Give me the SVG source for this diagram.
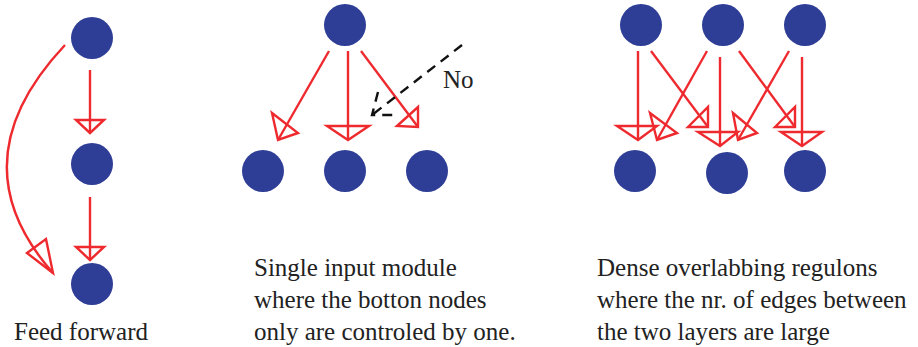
<svg xmlns="http://www.w3.org/2000/svg" width="918" height="347" viewBox="0 0 918 347">
<style>
.node{fill:#2E3D95}
.edge{stroke:#EE2A2F;stroke-width:2.4;fill:none}
.head{stroke:#EE2A2F;stroke-width:2.4;fill:none;stroke-linejoin:miter}
.dash{stroke:#111;stroke-width:2.4;fill:none;stroke-dasharray:10 7}
text{font-family:'Liberation Serif',Tinos,'DejaVu Serif',serif;font-size:25px;fill:#222}
</style>
<rect width="918" height="347" fill="#fff"/>
<g id="ff-n1"><circle class="node" cx="92" cy="38" r="21"/></g>
<g id="ff-n2"><circle class="node" cx="92" cy="164" r="21"/></g>
<g id="ff-n3"><circle class="node" cx="92" cy="284" r="21"/></g>
<g id="sim-top"><circle class="node" cx="345" cy="25" r="21"/></g>
<g id="sim-b1"><circle class="node" cx="263" cy="171" r="21"/></g>
<g id="sim-b2"><circle class="node" cx="345" cy="171" r="21"/></g>
<g id="sim-b3"><circle class="node" cx="427" cy="171" r="21"/></g>
<g id="dor-t1"><circle class="node" cx="641" cy="25" r="21"/></g>
<g id="dor-t2"><circle class="node" cx="723" cy="25" r="21"/></g>
<g id="dor-t3"><circle class="node" cx="805" cy="25" r="21"/></g>
<g id="dor-b1"><circle class="node" cx="635" cy="171" r="21"/></g>
<g id="dor-b2"><circle class="node" cx="727" cy="173" r="21"/></g>
<g id="dor-b3"><circle class="node" cx="805" cy="171" r="21"/></g>
<g id="connectors">
<line class="edge" x1="90" y1="70" x2="90" y2="133"/><polygon class="head" points="76,120 104,120 90,133"/>
<line class="edge" x1="90" y1="197" x2="90" y2="260"/><polygon class="head" points="76,247 104,247 90,260"/>
<path class="edge" d="M65,45 Q-45,162 53,273"/><polygon class="head" points="27,253 46,239 53,273"/>
<line class="edge" x1="329" y1="51" x2="278" y2="140"/><polygon class="head" points="272,113 298,133 278,140"/>
<line class="edge" x1="348" y1="51" x2="348" y2="140"/><polygon class="head" points="327,126 369,126 348,140"/>
<line class="edge" x1="361" y1="51" x2="418" y2="127"/><polygon class="head" points="397,126 418,107 418,127"/>
<path class="dash" d="M462,45 L372,115 M378,92 L372,115 L398,115"/>
<line class="edge" x1="638" y1="51" x2="638" y2="140"/><polygon class="head" points="617,126 657,126 638,140"/>
<line class="edge" x1="651" y1="51" x2="708" y2="127"/><polygon class="head" points="688,127 708,107 708,127"/>
<line class="edge" x1="707" y1="51" x2="657" y2="140"/><polygon class="head" points="650,113 677,133 657,140"/>
<line class="edge" x1="720" y1="57" x2="720" y2="146"/><polygon class="head" points="698,132 738,132 720,146"/>
<line class="edge" x1="739" y1="51" x2="795" y2="127"/><polygon class="head" points="775,127 795,107 795,127"/>
<line class="edge" x1="789" y1="51" x2="738" y2="140"/><polygon class="head" points="733,113 757,133 738,140"/>
<line class="edge" x1="802" y1="57" x2="802" y2="146"/><polygon class="head" points="781,132 822,132 802,146"/>
</g>
<g font-family="Liberation Serif, serif">
<text x="443" y="88">No</text>
<text x="14" y="340">Feed forward</text>
<text x="254" y="276">Single input module</text>
<text x="254" y="308">where the botton nodes</text>
<text x="254" y="340">only are controled by one.</text>
<text x="597" y="276">Dense overlabbing regulons</text>
<text x="597" y="308">where the nr. of edges between</text>
<text x="597" y="340">the two layers are large</text>
</g>
</svg>
